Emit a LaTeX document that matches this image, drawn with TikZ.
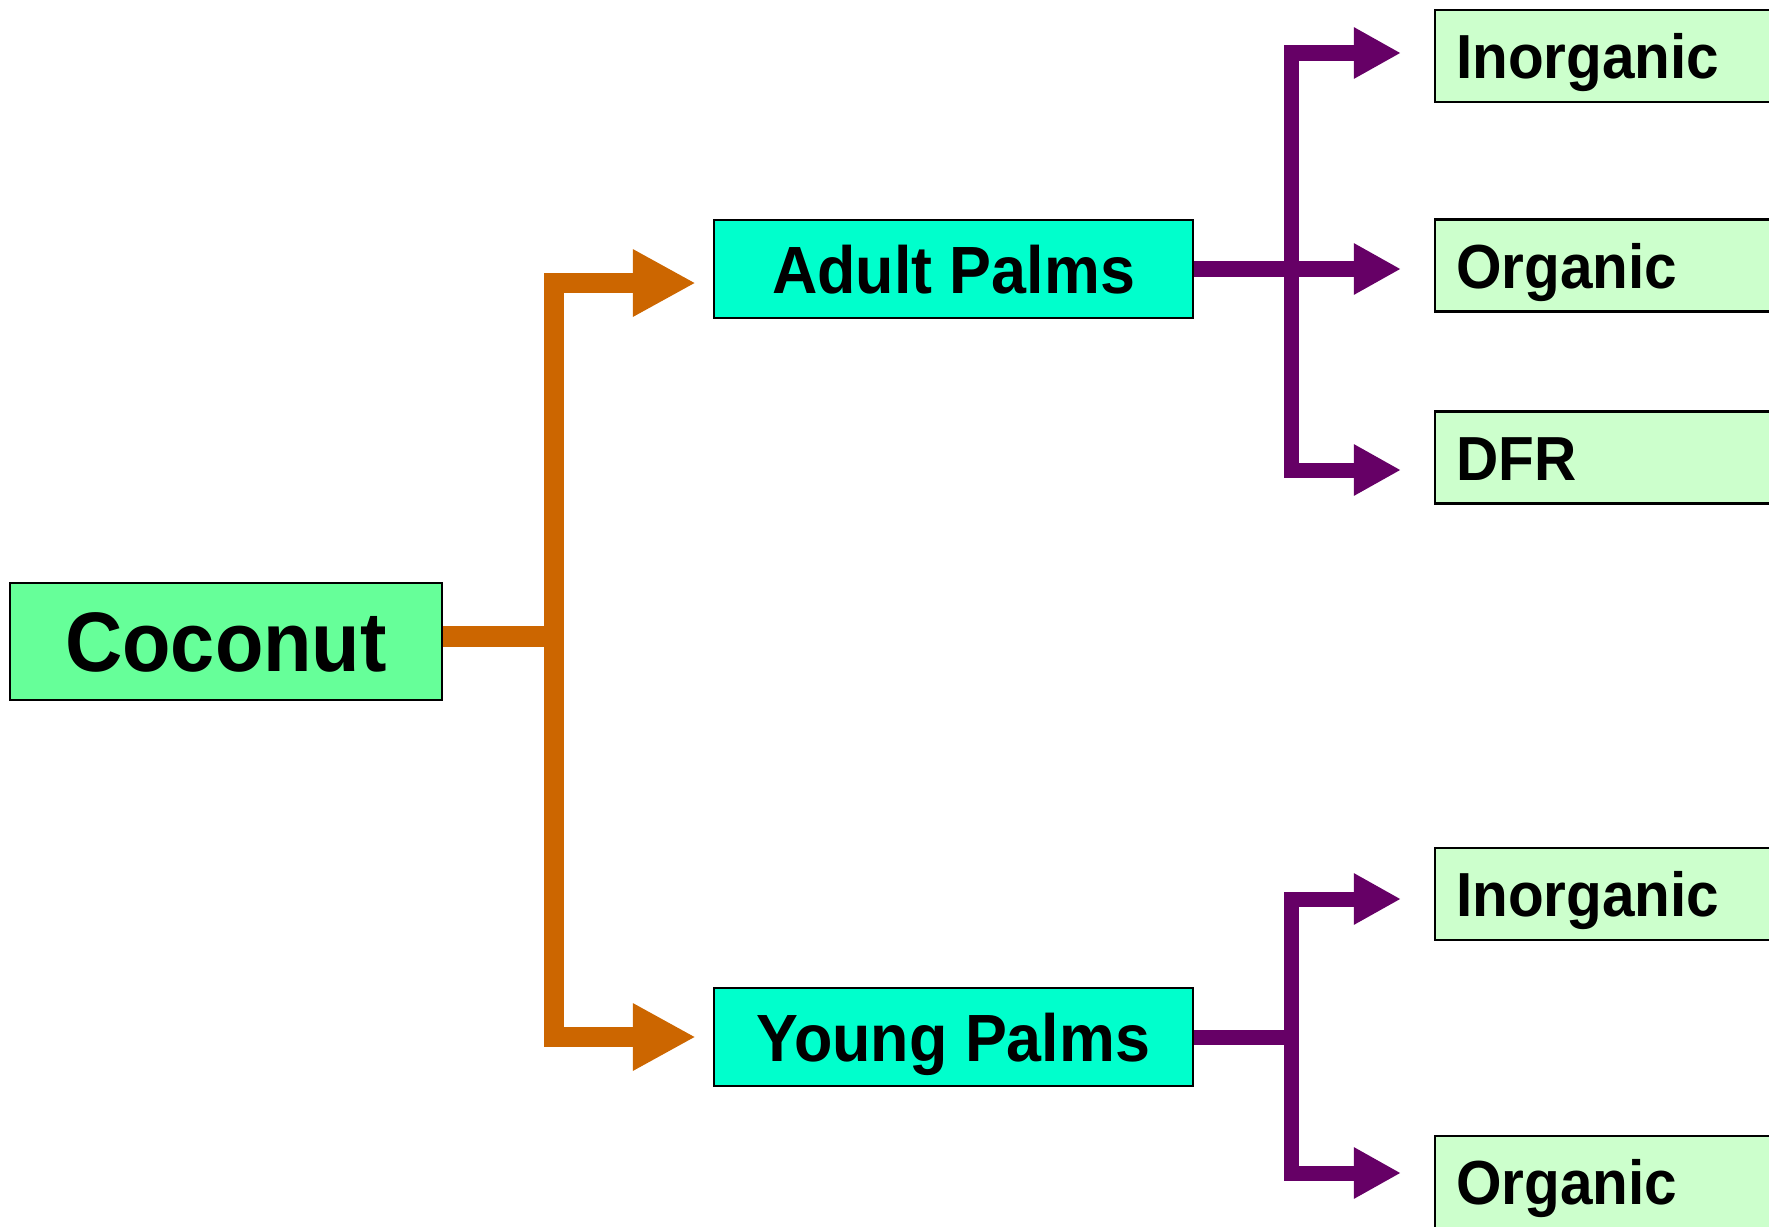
\documentclass[tikz,border=0pt]{standalone}
\usepackage{fontspec}
\setmainfont{Liberation Sans}[FakeStretch=0.94]
\usetikzlibrary{calc}
\usetikzlibrary{arrows.meta}

\definecolor{rootgreen}{RGB}{102,255,153}
\definecolor{palmcyan}{RGB}{0,255,204}
\definecolor{leafgreen}{RGB}{204,255,204}
\definecolor{branchorange}{RGB}{204,102,0}
\definecolor{branchpurple}{RGB}{102,0,102}

\tikzset{
 box/.style={draw=black, line width=0.6pt, inner sep=0pt, text depth=0pt},
 rootbox/.style={box, fill=rootgreen, minimum width=4.32cm, minimum height=1.17cm,
   font=\fontsize{24}{28}\selectfont\bfseries, text height=0.6cm},
 palmbox/.style={box, fill=palmcyan, minimum width=4.79cm, minimum height=0.98cm,
   font=\fontsize{19}{22}\selectfont\bfseries, text height=0.48cm},
 leafbox/.style={box, fill=leafgreen, anchor=west, minimum height=0.92cm, inner xsep=0.21cm,
   text width=3.3cm, align=left, font=\fontsize{17.7}{21}\selectfont\bfseries, text height=0.45cm},
 orangeline/.style={branchorange, line width=0.2cm},
 orangearrow/.style={orangeline, -{Triangle[length=0.63cm, width=0.63cm]}, shorten >=0.17cm},
 purpleline/.style={branchpurple, line width=0.15cm},
 purplearrow/.style={purpleline, -{Triangle[length=0.47cm, width=0.48cm]}, shorten >=0.33cm},
}

\begin{document}
\begin{tikzpicture}[x=0.01cm, y=-0.01cm]
\useasboundingbox (0,0) rectangle (1769,1227);
\clip (0,0) rectangle (1769,1227);

\node[rootbox] (coconut) at (226,641.5) {Coconut};
\node[palmbox] (adult) at (953.5,269) {Adult Palms};
\node[palmbox] (young) at (953.5,1037) {Young Palms};

\node[leafbox] (inorgA) at (1434,56) {Inorganic};
\node[leafbox] (orgA) at (1434,265.5) {Organic};
\node[leafbox] (dfr) at (1434,457.5) {DFR};
\node[leafbox] (inorgY) at (1434,894) {Inorganic};
\node[leafbox] (orgY) at (1434,1182) {Organic};

% coconut to palms
\draw[orangeline] ([yshift=0.05cm]coconut.east) -- ++(111,0) coordinate (cosplit);
\draw[orangearrow] (cosplit) |- ([yshift=-0.14cm]adult.west);
\draw[orangearrow] (cosplit) |- (young.west);

% adult palms
\draw[purpleline] (adult.east) -- ++(97,0) coordinate (adsplit);
\draw[purplearrow] (adsplit) |- ([yshift=0.03cm]inorgA.west);
\draw[purplearrow] (adsplit) -- (adsplit -| orgA.west);
\draw[purplearrow] (adsplit) |- ([yshift=-0.125cm]dfr.west);

% young palms
\draw[purpleline] (young.east) -- ++(97,0) coordinate (ysplit);
\draw[purplearrow] (ysplit) |- ([yshift=-0.05cm]inorgY.west);
\draw[purplearrow] (ysplit) |- ([yshift=0.09cm]orgY.west);
\end{tikzpicture}
\end{document}
